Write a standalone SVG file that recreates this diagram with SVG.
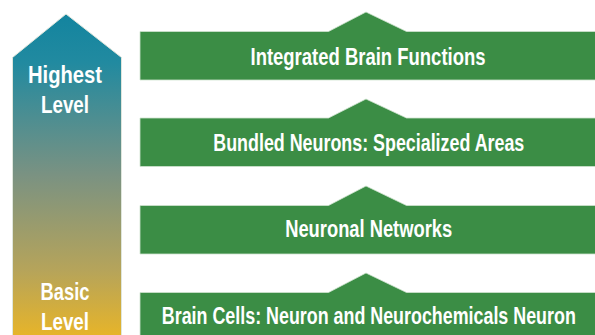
<svg xmlns="http://www.w3.org/2000/svg" width="595" height="335" viewBox="0 0 595 335">
<defs>
<linearGradient id="lvl" x1="0" y1="14" x2="0" y2="335" gradientUnits="userSpaceOnUse">
<stop offset="0" stop-color="#13849f"/>
<stop offset="0.15" stop-color="#218aa0"/>
<stop offset="0.5" stop-color="#7a9282"/>
<stop offset="0.8" stop-color="#b6a45a"/>
<stop offset="1" stop-color="#e6b42a"/>
</linearGradient>
<style>
.box{fill:#3b8d45;stroke:#cfe3cf;stroke-width:0.8}
.lbl{font-family:"Liberation Sans",Arial,sans-serif;font-weight:bold;font-size:23px;fill:#ffffff;text-anchor:middle}
.side{font-family:"Liberation Sans",Arial,sans-serif;font-weight:bold;font-size:24px;fill:#ffffff;text-anchor:middle}
</style>
</defs>
<g id="level-arrow">
<path d="M12.5,336 L12.5,57.5 L66,14 L121.5,57.5 L121.5,336 Z" fill="url(#lvl)" stroke="#dfe6dc" stroke-width="1"/>
<text class="side" x="65" y="83" textLength="74" lengthAdjust="spacingAndGlyphs">Highest</text>
<text class="side" x="65" y="113" textLength="48" lengthAdjust="spacingAndGlyphs">Level</text>
<text class="side" x="65" y="300" textLength="49" lengthAdjust="spacingAndGlyphs">Basic</text>
<text class="side" x="65" y="330" textLength="48" lengthAdjust="spacingAndGlyphs">Level</text>
</g>
<g id="node-integrated">
<path class="box" d="M140,31.5 L328.5,31.5 L366,12 L406.5,31.5 L596,31.5 L596,80 L140,80 Z"/>
<text class="lbl" x="368" y="65" textLength="235" lengthAdjust="spacingAndGlyphs">Integrated Brain Functions</text>
</g>
<g id="node-bundled">
<path class="box" d="M140,118 L328.5,118 L366,99 L406.5,118 L596,118 L596,166.5 L140,166.5 Z"/>
<text class="lbl" x="368.8" y="150.5" textLength="311" lengthAdjust="spacingAndGlyphs">Bundled Neurons: Specialized Areas</text>
</g>
<g id="node-networks">
<path class="box" d="M140,205.5 L328.5,205.5 L366,186 L406.5,205.5 L596,205.5 L596,254 L140,254 Z"/>
<text class="lbl" x="368.7" y="237" textLength="167" lengthAdjust="spacingAndGlyphs">Neuronal Networks</text>
</g>
<g id="node-cells">
<path class="box" d="M140,292.5 L328.5,292.5 L366,273 L406.5,292.5 L596,292.5 L596,336 L140,336 Z"/>
<text class="lbl" x="368.8" y="323.5" textLength="414" lengthAdjust="spacingAndGlyphs">Brain Cells: Neuron and Neurochemicals Neuron</text>
</g>
<g id="connectors"></g>
</svg>
